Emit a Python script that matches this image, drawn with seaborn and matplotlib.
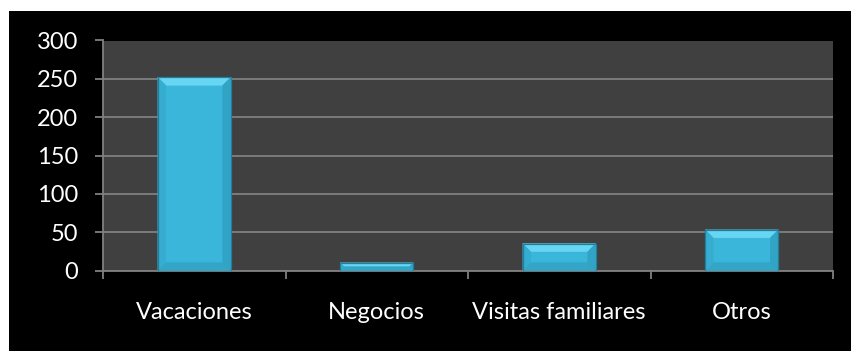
import matplotlib
matplotlib.use("Agg")
import matplotlib.pyplot as plt
from matplotlib.patches import Rectangle, Polygon
from matplotlib.ticker import FixedLocator
import seaborn as sns
import pandas as pd

# Motivo del viaje
categorias = ["Vacaciones", "Negocios", "Visitas familiares", "Otros"]
valores = [252, 10, 35, 53]
ticks_y = [0, 50, 100, 150, 200, 250, 300]

sns.set_theme(style="dark")
plt.rcParams["font.family"] = ["Lato", "DejaVu Sans"]

W, H = 851, 351
fig = plt.figure(figsize=(W / 100, H / 100), dpi=100, facecolor="white")
# black chart frame, leaving a thin white margin on the top and left
fig.patches.append(Rectangle((9 / W, 0), 1 - 9 / W, 1 - 11 / H,
                             transform=fig.transFigure, facecolor="black",
                             edgecolor="none", zorder=-10))

ax_l, ax_r, ax_b, ax_t = 103, 833, 80.5, 310.5
ax = fig.add_axes([ax_l / W, ax_b / H, (ax_r - ax_l) / W, (ax_t - ax_b) / H])
ax.set_facecolor("#404040")

df = pd.DataFrame({"categoria": categorias, "valor": valores})
sns.barplot(data=df, x="categoria", y="valor", color="#3ab6db",
            width=0.4, saturation=1, ax=ax, zorder=3,
            edgecolor="none", linewidth=0)

ax.set_xlim(-0.5, len(categorias) - 0.5)
ax.set_ylim(0, 300)
ax.set_yticks(ticks_y)
ax.set_xlabel("")
ax.set_ylabel("")

grid_c = "#808080"
ax.yaxis.grid(True, color=grid_c, linewidth=1.3, zorder=1)
ax.xaxis.grid(False)
ax.set_axisbelow(True)
for s in ["top", "right"]:
    ax.spines[s].set_visible(False)
for s in ["left", "bottom"]:
    ax.spines[s].set_visible(True)
    ax.spines[s].set_color(grid_c)
    ax.spines[s].set_linewidth(1.3)

ax.tick_params(axis="y", colors=grid_c, labelcolor="white", labelsize=17,
               length=6, width=1.3, pad=12, left=True)
ax.tick_params(axis="x", which="major", length=0, labelcolor="white",
               labelsize=17, pad=23, bottom=False)
ax.xaxis.set_minor_locator(FixedLocator([i - 0.5 for i in range(len(categorias) + 1)]))
ax.tick_params(axis="x", which="minor", bottom=True, length=6, width=1.3,
               color=grid_c)

# bevelled edges on each bar
sx = (len(categorias)) / (ax_r - ax_l)
sy = 300 / (ax_t - ax_b)
bev = 8
for p in ax.patches:
    x0, y0 = p.get_x(), p.get_y()
    x1, y1 = x0 + p.get_width(), y0 + p.get_height()
    by = min(bev * sy, (y1 - y0) / 2)
    bx = min(bev * sx, by / sy * sx)
    faces = [
        ([(x0, y1), (x1, y1), (x1 - bx, y1 - by), (x0 + bx, y1 - by)], "#66d6f2"),
        ([(x0, y0), (x1, y0), (x1 - bx, y0 + by), (x0 + bx, y0 + by)], "#33a6c8"),
        ([(x0, y0), (x0 + bx, y0 + by), (x0 + bx, y1 - by), (x0, y1)], "#35acd0"),
        ([(x1, y0), (x1 - bx, y0 + by), (x1 - bx, y1 - by), (x1, y1)], "#31a3c5"),
    ]
    for pts, c in faces:
        ax.add_patch(Polygon(pts, closed=True, facecolor=c, edgecolor=c,
                             linewidth=0.3, zorder=4))
    ax.add_patch(Rectangle((x0, y0), x1 - x0, y1 - y0, facecolor="none",
                           edgecolor="#217f9b", linewidth=0.9, zorder=5))

fig.savefig("out.png", dpi=100, facecolor=fig.get_facecolor())
